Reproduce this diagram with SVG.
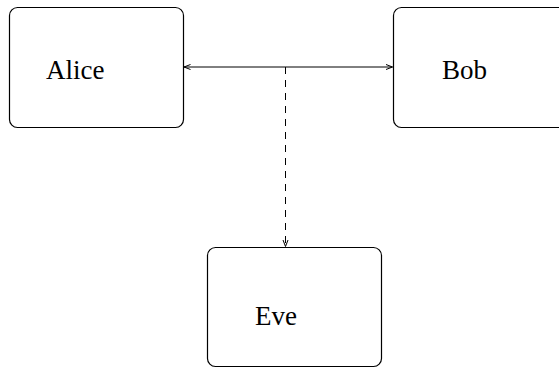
<svg xmlns="http://www.w3.org/2000/svg" width="559" height="371" viewBox="0 0 559 371">
<style>
.box{fill:#fff;stroke:#000;stroke-width:1.2}
.lbl{font-family:"Liberation Serif","Times New Roman",serif;font-size:27px;fill:#000}
.edge{fill:none;stroke:#000;stroke-width:1}
.dash{stroke-dasharray:7 6}
</style>
<defs>
<marker id="ah" markerWidth="10" markerHeight="8" refX="7" refY="3" orient="auto-start-reverse" markerUnits="userSpaceOnUse">
<path d="M0.5,0.5 L7,3 L0.5,5.5" fill="none" stroke="#000" stroke-width="1"/>
</marker>
</defs>
<rect width="559" height="371" fill="#fff"/>
<g id="connectors">
<line class="edge" x1="184" y1="67" x2="392.5" y2="67" marker-start="url(#ah)" marker-end="url(#ah)"/>
<line class="edge dash" x1="285.5" y1="67" x2="285.5" y2="246.5" marker-end="url(#ah)"/>
</g>
<g id="alice">
<rect class="box" x="9.5" y="7.5" width="174" height="120" rx="8"/>
<text class="lbl" x="46" y="79">Alice</text>
</g>
<g id="bob">
<rect class="box" x="393.5" y="7.5" width="174" height="120" rx="8"/>
<text class="lbl" x="442" y="79">Bob</text>
</g>
<g id="eve">
<rect class="box" x="207.5" y="247.5" width="174" height="119" rx="8"/>
<text class="lbl" x="255" y="325">Eve</text>
</g>
</svg>
